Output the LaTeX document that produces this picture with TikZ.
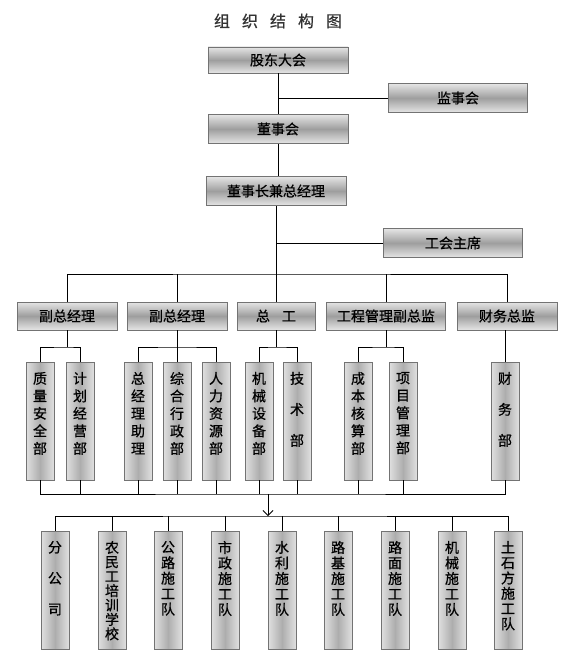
\documentclass[tikz,border=0pt]{standalone}
\usepackage{fontspec}
\newfontfamily\cjk[FakeBold=0.6]{Noto Sans CJK SC}
\usepackage{tikz}
\usetikzlibrary{arrows.meta,positioning}

\newcommand{\vtxt}[2]{\parbox[c][104pt][t]{22pt}{\centering\fontsize{14}{#1}\selectfont\vspace*{3pt}#2}}

\tikzset{
  hbox/.style={draw=black!55, line width=0.8pt, top color=black!10, bottom color=black!10,
    middle color=black!38, text=black, inner sep=0pt,
    font=\cjk\fontsize{14}{16}\selectfont},
  vbox/.style={draw=black!55, line width=0.8pt, left color=black!12, right color=black!12,
    middle color=black!32, text=black, inner sep=0pt,
    minimum width=28pt, minimum height=118pt, font=\cjk},
}

\begin{document}
\begin{tikzpicture}[x=1pt,y=-1pt,>={Straight Barb[length=5pt,width=10pt]},line width=0.8pt]
    \useasboundingbox (0,0) rectangle (568,652);

    \node[text=black!80, font=\cjk\fontsize{16}{16}\selectfont] (title) at (278,21)
        {组\hspace{12pt}织\hspace{12pt}结\hspace{12pt}构\hspace{12pt}图};

    % top
    \node[hbox, minimum width=140pt, minimum height=26pt] (gd) at (278,60) {股东大会};
    \node[hbox, minimum width=139pt, minimum height=29pt] (jsh) at (458,98) {监事会};
    \node[hbox, minimum width=140pt, minimum height=29pt] (dsh) at (278,129) {董事会};
    \node[hbox, minimum width=140pt, minimum height=29pt] (zjl) at (276,191) {董事长兼总经理};
    \node[hbox, minimum width=139pt, minimum height=29pt] (gh) at (453,243) {工会主席};

    \draw (gd) -- (dsh);
    \draw (jsh) -- (jsh -| gd);
    \draw (dsh.south) -- (dsh.south |- zjl.north);
    \draw (gh) -- (gh -| zjl);

    % second row
    \node[hbox, minimum width=100pt, minimum height=28pt] (fz1) at (67,316) {副总经理};
    \node[hbox, minimum width=100pt, minimum height=28pt] (fz2) at (177,316) {副总经理};
    \node[hbox, minimum width=78pt, minimum height=28pt] (zg) at (276,316) {总\hspace{12pt}工};
    \node[hbox, minimum width=119pt, minimum height=28pt] (gcz) at (386,316) {工程管理副总监};
    \node[hbox, minimum width=100pt, minimum height=28pt] (cwz) at (507,316) {财务总监};

    \coordinate (b1) at (276,274);
    \draw (zjl) -- (zg);
    \draw (fz1) |- (b1) -| (cwz);
    \draw (fz2) -- (fz2 |- b1);
    \draw (gcz) -- (gcz |- b1);

    % departments
    \node[vbox] (zlaq) at (40,421) {\vtxt{17.5pt}{质\\量\\安\\全\\部}};
    \node[vbox] (jhjy) at (80,421) {\vtxt{17.5pt}{计\\划\\经\\营\\部}};
    \node[vbox] (zjlzl) at (138,421) {\vtxt{17.5pt}{总\\经\\理\\助\\理}};
    \node[vbox] (zhxz) at (177,421) {\vtxt{17.5pt}{综\\合\\行\\政\\部}};
    \node[vbox] (rlzy) at (216,421) {\vtxt{17.5pt}{人\\力\\资\\源\\部}};
    \node[vbox] (jxsb) at (259,421) {\vtxt{17.5pt}{机\\械\\设\\备\\部}};
    \node[vbox] (js) at (297,421) {\vtxt{31pt}{技\\术\\部}};
    \node[vbox] (cbhs) at (358,421) {\vtxt{17.5pt}{成\\本\\核\\算\\部}};
    \node[vbox] (xmgl) at (403,421) {\vtxt{17.5pt}{项\\目\\管\\理\\部}};
    \node[vbox] (cw) at (505,421) {\vtxt{31pt}{财\\务\\部}};

    \coordinate (sb) at (0,347);
    \draw (zlaq) |- (fz1 |- sb) -| (jhjy);
    \draw (fz1) -- (fz1 |- sb);
    \draw (zjlzl) |- (fz2 |- sb) -| (rlzy);
    \draw (fz2) -- (zhxz);
    \draw (jxsb) |- (zg |- sb) -| (js);
    \draw (zg) -- (zg |- sb);
    \draw (cbhs) |- (gcz |- sb) -| (xmgl);
    \draw (gcz) -- (gcz |- sb);
    \draw (cw) -- (cw |- cwz.south);

    % collecting lines
    \coordinate (cb) at (268,494);
    \coordinate (tb) at (268,516);
    \draw (zlaq) |- (cb) -| (cw);
    \draw (jhjy) -- (jhjy |- cb);
    \draw (zjlzl) -- (zjlzl |- cb);
    \draw (zhxz) -- (zhxz |- cb);
    \draw (rlzy) -- (rlzy |- cb);
    \draw (jxsb) -- (jxsb |- cb);
    \draw (js) -- (js |- cb);
    \draw (cbhs) -- (cbhs |- cb);
    \draw (xmgl) -- (xmgl |- cb);
    \draw[->] (cb) -- (tb);

    % units
    \node[vbox] (fgs) at (55,590) {\vtxt{31pt}{分\\公\\司}};
    \node[vbox] (nmg) at (112,590) {\vtxt{14.4pt}{农\\民\\工\\培\\训\\学\\校}};
    \node[vbox] (gl) at (168,590) {\vtxt{15.5pt}{公\\路\\施\\工\\队}};
    \node[vbox] (sz) at (225,590) {\vtxt{15.5pt}{市\\政\\施\\工\\队}};
    \node[vbox] (sl) at (282,590) {\vtxt{15.5pt}{水\\利\\施\\工\\队}};
    \node[vbox] (lj) at (338,590) {\vtxt{15.5pt}{路\\基\\施\\工\\队}};
    \node[vbox] (lm) at (395,590) {\vtxt{15.5pt}{路\\面\\施\\工\\队}};
    \node[vbox] (jx) at (452,590) {\vtxt{15.5pt}{机\\械\\施\\工\\队}};
    \node[vbox] (tsf) at (508,590) {\vtxt{15.3pt}{土\\石\\方\\施\\工\\队}};

    \draw (fgs) |- (tb) -| (tsf);
    \draw (nmg) -- (nmg |- tb);
    \draw (gl) -- (gl |- tb);
    \draw (sz) -- (sz |- tb);
    \draw (sl) -- (sl |- tb);
    \draw (lj) -- (lj |- tb);
    \draw (lm) -- (lm |- tb);
    \draw (jx) -- (jx |- tb);
\end{tikzpicture}
\end{document}
